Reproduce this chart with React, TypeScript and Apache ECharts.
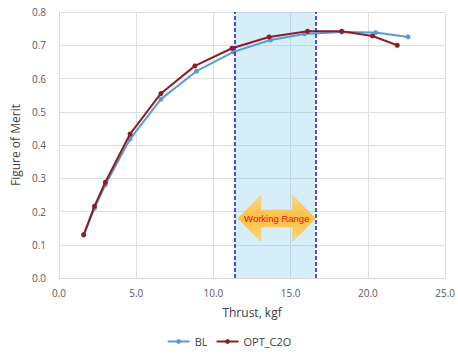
import React, { useEffect, useRef } from "react";
import * as echarts from "echarts";

const thrustBL = [1.6, 2.3, 3.0, 4.6, 6.6, 8.9, 11.3, 13.7, 15.9, 18.3, 20.5, 22.6];
const fomBL = [0.13, 0.21, 0.28, 0.418, 0.538, 0.622, 0.68, 0.716, 0.734, 0.74, 0.738, 0.725];
const thrustOPT = [1.6, 2.3, 3.0, 4.6, 6.6, 8.8, 11.2, 13.6, 16.1, 18.3, 20.3, 21.9];
const fomOPT = [0.13, 0.216, 0.288, 0.433, 0.555, 0.638, 0.691, 0.725, 0.742, 0.742, 0.728, 0.7];
const workingRange = [11.4, 16.6];
const arrowSpan = [11.58, 16.62, 0.179];
const seriesNames = ["BL", "OPT_C2O"];

const FONT = "'Open Sans', 'Liberation Sans', sans-serif";

export default function App() {
  const ref = useRef<HTMLDivElement>(null);
  useEffect(() => {
    document.body.style.margin = "0";
    if (!ref.current) return;
    const chart = echarts.init(ref.current, undefined, { renderer: "svg" });
    const blData = thrustBL.map((x, i) => [x, fomBL[i]]);
    const optData = thrustOPT.map((x, i) => [x, fomOPT[i]]);
    chart.setOption({
      animation: false,
      backgroundColor: "#ffffff",
      grid: { left: 59, right: 12, top: 12, bottom: 77 },
      legend: {
        data: seriesNames,
        bottom: 3,
        left: "center",
        itemWidth: 22,
        itemHeight: 6,
        itemGap: 8,
        textStyle: { fontFamily: FONT, fontSize: 11, color: "#404040" },
      },
      xAxis: {
        type: "value",
        min: 0,
        max: 25,
        interval: 5,
        name: "Thrust, kgf",
        nameLocation: "middle",
        nameGap: 28,
        nameTextStyle: { fontFamily: FONT, fontSize: 12, color: "#404040" },
        axisLine: { show: true, lineStyle: { color: "#d9d9d9" } },
        axisTick: { show: false },
        axisLabel: {
          formatter: (v: number) => v.toFixed(1),
          fontFamily: FONT,
          fontSize: 10,
          color: "#595959",
          margin: 10,
        },
        splitLine: { show: true, lineStyle: { color: "#dedede" } },
      },
      yAxis: {
        type: "value",
        min: 0,
        max: 0.8,
        interval: 0.1,
        name: "Figure of Merit",
        nameLocation: "middle",
        nameGap: 31,
        nameTextStyle: { fontFamily: FONT, fontSize: 12, color: "#404040" },
        axisLine: { show: true, lineStyle: { color: "#d9d9d9" } },
        axisTick: { show: false },
        axisLabel: {
          formatter: (v: number) => v.toFixed(1),
          fontFamily: FONT,
          fontSize: 10,
          color: "#595959",
          margin: 13,
        },
        splitLine: { show: true, lineStyle: { color: "#dedede" } },
      },
      series: [
        {
          name: "BL",
          type: "line",
          data: blData,
          symbol: "circle",
          symbolSize: 5,
          color: "#5b9bd5",
          lineStyle: { width: 2, color: "#5b9bd5" },
          itemStyle: { color: "#5b9bd5" },
          z: 3,
          markArea: {
            silent: true,
            itemStyle: { color: "rgba(120,200,240,0.3)" },
            data: [[{ xAxis: workingRange[0] }, { xAxis: workingRange[1] }]],
          },
          markLine: {
            silent: true,
            symbol: "none",
            label: { show: false },
            lineStyle: { color: "#1a1acc", type: [4, 2], width: 1.5 },
            data: workingRange.map((v) => ({ xAxis: v })),
          },
        },
        {
          name: "OPT_C2O",
          type: "line",
          data: optData,
          symbol: "circle",
          symbolSize: 5,
          color: "#8b1e24",
          lineStyle: { width: 2, color: "#8b1e24" },
          itemStyle: { color: "#8b1e24" },
          z: 4,
        },
        {
          name: "arrow",
          type: "custom",
          silent: true,
          z: 5,
          encode: { x: [0, 1], y: 2 },
          data: [arrowSpan],
          renderItem: (params: any, api: any) => {
            const pL = api.coord([api.value(0), api.value(2)]);
            const pR = api.coord([api.value(1), api.value(2)]);
            const cy = pL[1];
            const xl = pL[0];
            const xr = pR[0];
            const head = 23;
            const hh = 23;
            const sh = 8.5;
            const pts = [
              [xl, cy],
              [xl + head, cy - hh],
              [xl + head, cy - sh],
              [xr - head, cy - sh],
              [xr - head, cy - hh],
              [xr, cy],
              [xr - head, cy + hh],
              [xr - head, cy + sh],
              [xl + head, cy + sh],
              [xl + head, cy + hh],
            ];
            return {
              type: "group",
              children: [
                {
                  type: "polygon",
                  shape: { points: pts },
                  style: {
                    fill: new echarts.graphic.LinearGradient(0, 0, 0, 1, [
                      { offset: 0, color: "#ffd77a" },
                      { offset: 0.5, color: "#fcbf45" },
                      { offset: 1, color: "#ffd77a" },
                    ]),
                    stroke: "#f5c060",
                    lineWidth: 0.5,
                  },
                },
                {
                  type: "text",
                  x: (xl + xr) / 2,
                  y: cy,
                  style: {
                    text: "Working Range",
                    fill: "#ee1111",
                    fontFamily: "'Liberation Sans', Arial, sans-serif",
                    fontSize: 9.5,
                    fontWeight: "normal",
                    align: "center",
                    verticalAlign: "middle",
                  },
                },
              ],
            };
          },
        },
      ],
    });
    return () => chart.dispose();
  }, []);
  return <div ref={ref} style={{ width: 458, height: 355 }} />;
}
